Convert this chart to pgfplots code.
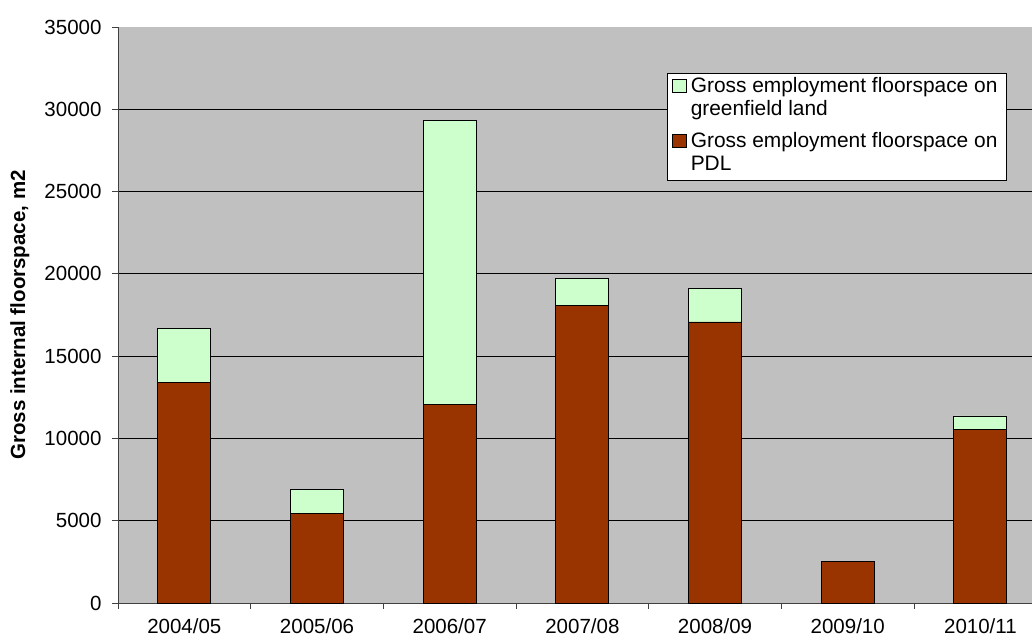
\documentclass[border=0pt]{standalone}
\usepackage{fontspec}
\setmainfont{Liberation Sans}
\usepackage{pgfplots}
\pgfplotsset{compat=1.18}
\definecolor{pdl}{HTML}{993300}
\definecolor{greenf}{HTML}{CCFFCC}
\definecolor{plotbg}{HTML}{C0C0C0}
\newcommand\fs{\fontsize{20.5}{22.5}\selectfont}
\newcommand\lfs{\fontsize{20.9}{22.5}\selectfont}
\begin{document}
\begin{tikzpicture}[x=1pt,y=1pt]
\useasboundingbox (0,0) rectangle (1032,641);
\begin{axis}[
 at={(118pt,38pt)}, anchor=south west,
 width=914pt, height=576pt, scale only axis,
 xmin=-0.5, xmax=6.389, ymin=0, ymax=35000,
 ybar stacked, bar width=53pt,
 axis lines=left, axis line style={-, black!75, line width=0.9pt},
 axis background/.style={fill=plotbg},
 ytick={0,5000,...,30000}, extra y ticks={35000}, extra y tick style={grid=none},
 ymajorgrids, grid style={black, line width=0.8pt},
 xtick={-0.5,0.5,...,5.5}, xticklabel={\mbox{}},
 extra x ticks={0,1,2,3,4,5,6},
 extra x tick labels={2004/05,2005/06,2006/07,2007/08,2008/09,2009/10,2010/11},
 extra x tick style={major tick length=0pt, grid=none},
 tick align=outside, major tick length=6pt, tick style={black!75, line width=0.9pt},
 scaled y ticks=false,
 /pgf/number format/1000 sep={},
 /pgf/number format/assume math mode=true,
 tick label style={font=\fs},
 xticklabel style={yshift=-12pt},
 yticklabel style={xshift=-7pt},
 ylabel={Gross internal floorspace, m2},
 ylabel style={font=\bfseries\fs, at={(axis description cs:-0.10175,0.5)}, anchor=base},
 legend style={at={(axis description cs:0.6007,0.9201)}, anchor=north west, draw=black, line width=0.9pt, fill=white, font=\lfs, inner xsep=5pt, inner ysep=3.5pt, row sep=10pt, cells={anchor=base west}, nodes={inner xsep=4pt, inner ysep=0pt, text depth=}},
 legend image code/.code={\draw[#1, line width=0.8pt] (0pt,0pt) rectangle (13.5pt,13.5pt);},
 reverse legend,
]
\addplot[fill=pdl, draw=black, line width=0.9pt] coordinates {(0,13390) (1,5430) (2,12050) (3,18070) (4,17075) (5,2510) (6,10555)};
\addlegendentry{\begin{tabular}[t]{@{}l@{}}Gross employment floorspace on\\PDL\end{tabular}}
\addplot[fill=greenf, draw=black, line width=0.9pt] coordinates {(0,3320) (1,1455) (2,17260) (3,1640) (4,2025) (5,0) (6,810)};
\addlegendentry{\begin{tabular}[t]{@{}l@{}}Gross employment floorspace on\\greenfield land\end{tabular}}
\end{axis}
\end{tikzpicture}
\end{document}
